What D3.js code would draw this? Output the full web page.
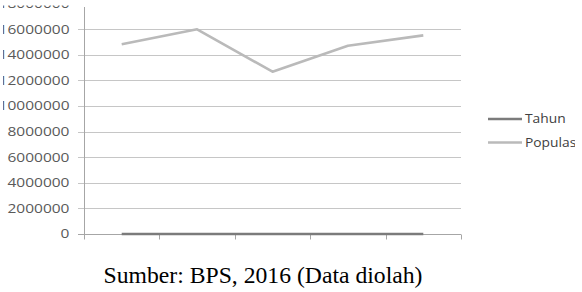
<!DOCTYPE html>
<html>
<head>
<meta charset="utf-8">
<script src="https://cdn.jsdelivr.net/npm/d3@7"></script>
<style>
  body { margin: 0; background: #fff; }
  svg { display: block; }
</style>
</head>
<body>
<div id="chart"></div>
<script>
// data
var categories = ["1", "2", "3", "4", "5"];
var tahun = [2011, 2012, 2013, 2014, 2015];
var populasi = [14820000, 15990000, 12680000, 14710000, 15520000];
var yTicks = [0, 2000000, 4000000, 6000000, 8000000, 10000000, 12000000, 14000000, 16000000, 18000000];
var seriesNames = ["Tahun", "Populasi"];
var seriesColors = ["#7b7b7b", "#bababa"];
var caption = "Sumber: BPS, 2016 (Data diolah)";

var W = 582, H = 292;
var margin = {top: 3.6, left: 84, right: 121, bottom: 58};

var svg = d3.select("#chart").append("svg")
    .attr("width", W)
    .attr("height", H);

var x = d3.scaleBand()
    .domain(categories)
    .range([margin.left, W - margin.right]);

var y = d3.scaleLinear()
    .domain([0, 18000000])
    .range([H - margin.bottom, margin.top]);

// gridlines (top one is cut off in the original)
svg.append("g").selectAll("line")
    .data(yTicks.filter(function(d) { return d > 0 && d < 18000000; }))
  .enter().append("line")
    .attr("x1", margin.left - 6)
    .attr("x2", W - margin.right)
    .attr("y1", function(d) { return Math.round(y(d)) + 0.5; })
    .attr("y2", function(d) { return Math.round(y(d)) + 0.5; })
    .attr("stroke", "#c6c6c6")
    .attr("stroke-width", 1);

// y tick labels, drawn wide like the source (they run off the left edge)
var yLab = svg.append("g");
yTicks.forEach(function(d) {
  yLab.append("text")
      .attr("transform", "translate(69.5," + y(d) + ") scale(1.24,1)")
      .attr("text-anchor", "end")
      .attr("dy", "0.35em")
      .attr("font-family", "Open Sans")
      .attr("font-size", 12.5)
      .attr("fill", "#595959")
      .text(d);
});
// the source image is cropped just above and left of the plot
svg.append("rect")
    .attr("x", 0).attr("y", 0)
    .attr("width", margin.left - 2).attr("height", 5.5)
    .attr("fill", "#fff");
svg.append("rect")
    .attr("x", 0).attr("y", 0)
    .attr("width", 3).attr("height", H - margin.bottom + 10)
    .attr("fill", "#fff");

// x axis with tick marks between categories, no labels
var xAxis = svg.append("g")
    .attr("transform", "translate(0," + (Math.round(y(0)) + 0.5) + ")");
xAxis.append("line")
    .attr("x1", margin.left - 6)
    .attr("x2", W - margin.right)
    .attr("stroke", "#a6a6a6");
var bounds = categories.map(function(c) { return x(c); }).concat([x.range()[1]]);
xAxis.selectAll(".tk")
    .data(bounds)
  .enter().append("line")
    .attr("class", "tk")
    .attr("x1", function(d) { return Math.round(d) + 0.5; })
    .attr("x2", function(d) { return Math.round(d) + 0.5; })
    .attr("y1", 0)
    .attr("y2", 5)
    .attr("stroke", "#a6a6a6");

// y axis line
svg.append("line")
    .attr("x1", margin.left + 0.5)
    .attr("x2", margin.left + 0.5)
    .attr("y1", 7)
    .attr("y2", Math.round(y(0)) + 5)
    .attr("stroke", "#a6a6a6");

var line = d3.line()
    .x(function(d, i) { return x(categories[i]) + x.bandwidth() / 2; })
    .y(function(d) { return y(d); });

[tahun, populasi].forEach(function(s, k) {
  svg.append("path")
      .datum(s)
      .attr("d", line)
      .attr("fill", "none")
      .attr("stroke", seriesColors[k])
      .attr("stroke-width", 2.6)
      .attr("stroke-linejoin", "round");
});

// legend, clipped at the right like the source
svg.append("clipPath").attr("id", "legclip")
  .append("rect").attr("x", 470).attr("y", 90).attr("width", 105).attr("height", 80);
var leg = svg.append("g").attr("clip-path", "url(#legclip)");
seriesNames.forEach(function(n, i) {
  var ly = 119 + i * 23.5;
  leg.append("line")
      .attr("x1", 488).attr("x2", 522)
      .attr("y1", ly).attr("y2", ly)
      .attr("stroke", seriesColors[i])
      .attr("stroke-width", 2.6);
  leg.append("text")
      .attr("transform", "translate(525," + ly + ") scale(1.15,1)")
      .attr("dy", "0.35em")
      .attr("font-family", "Open Sans")
      .attr("font-size", 12)
      .attr("fill", "#404040")
      .text(n);
});

svg.append("text")
    .attr("transform", "translate(263,283) scale(1.03,1)")
    .attr("text-anchor", "middle")
    .attr("font-family", "Liberation Serif")
    .attr("font-size", 23)
    .attr("fill", "#000")
    .text(caption);
</script>
</body>
</html>
